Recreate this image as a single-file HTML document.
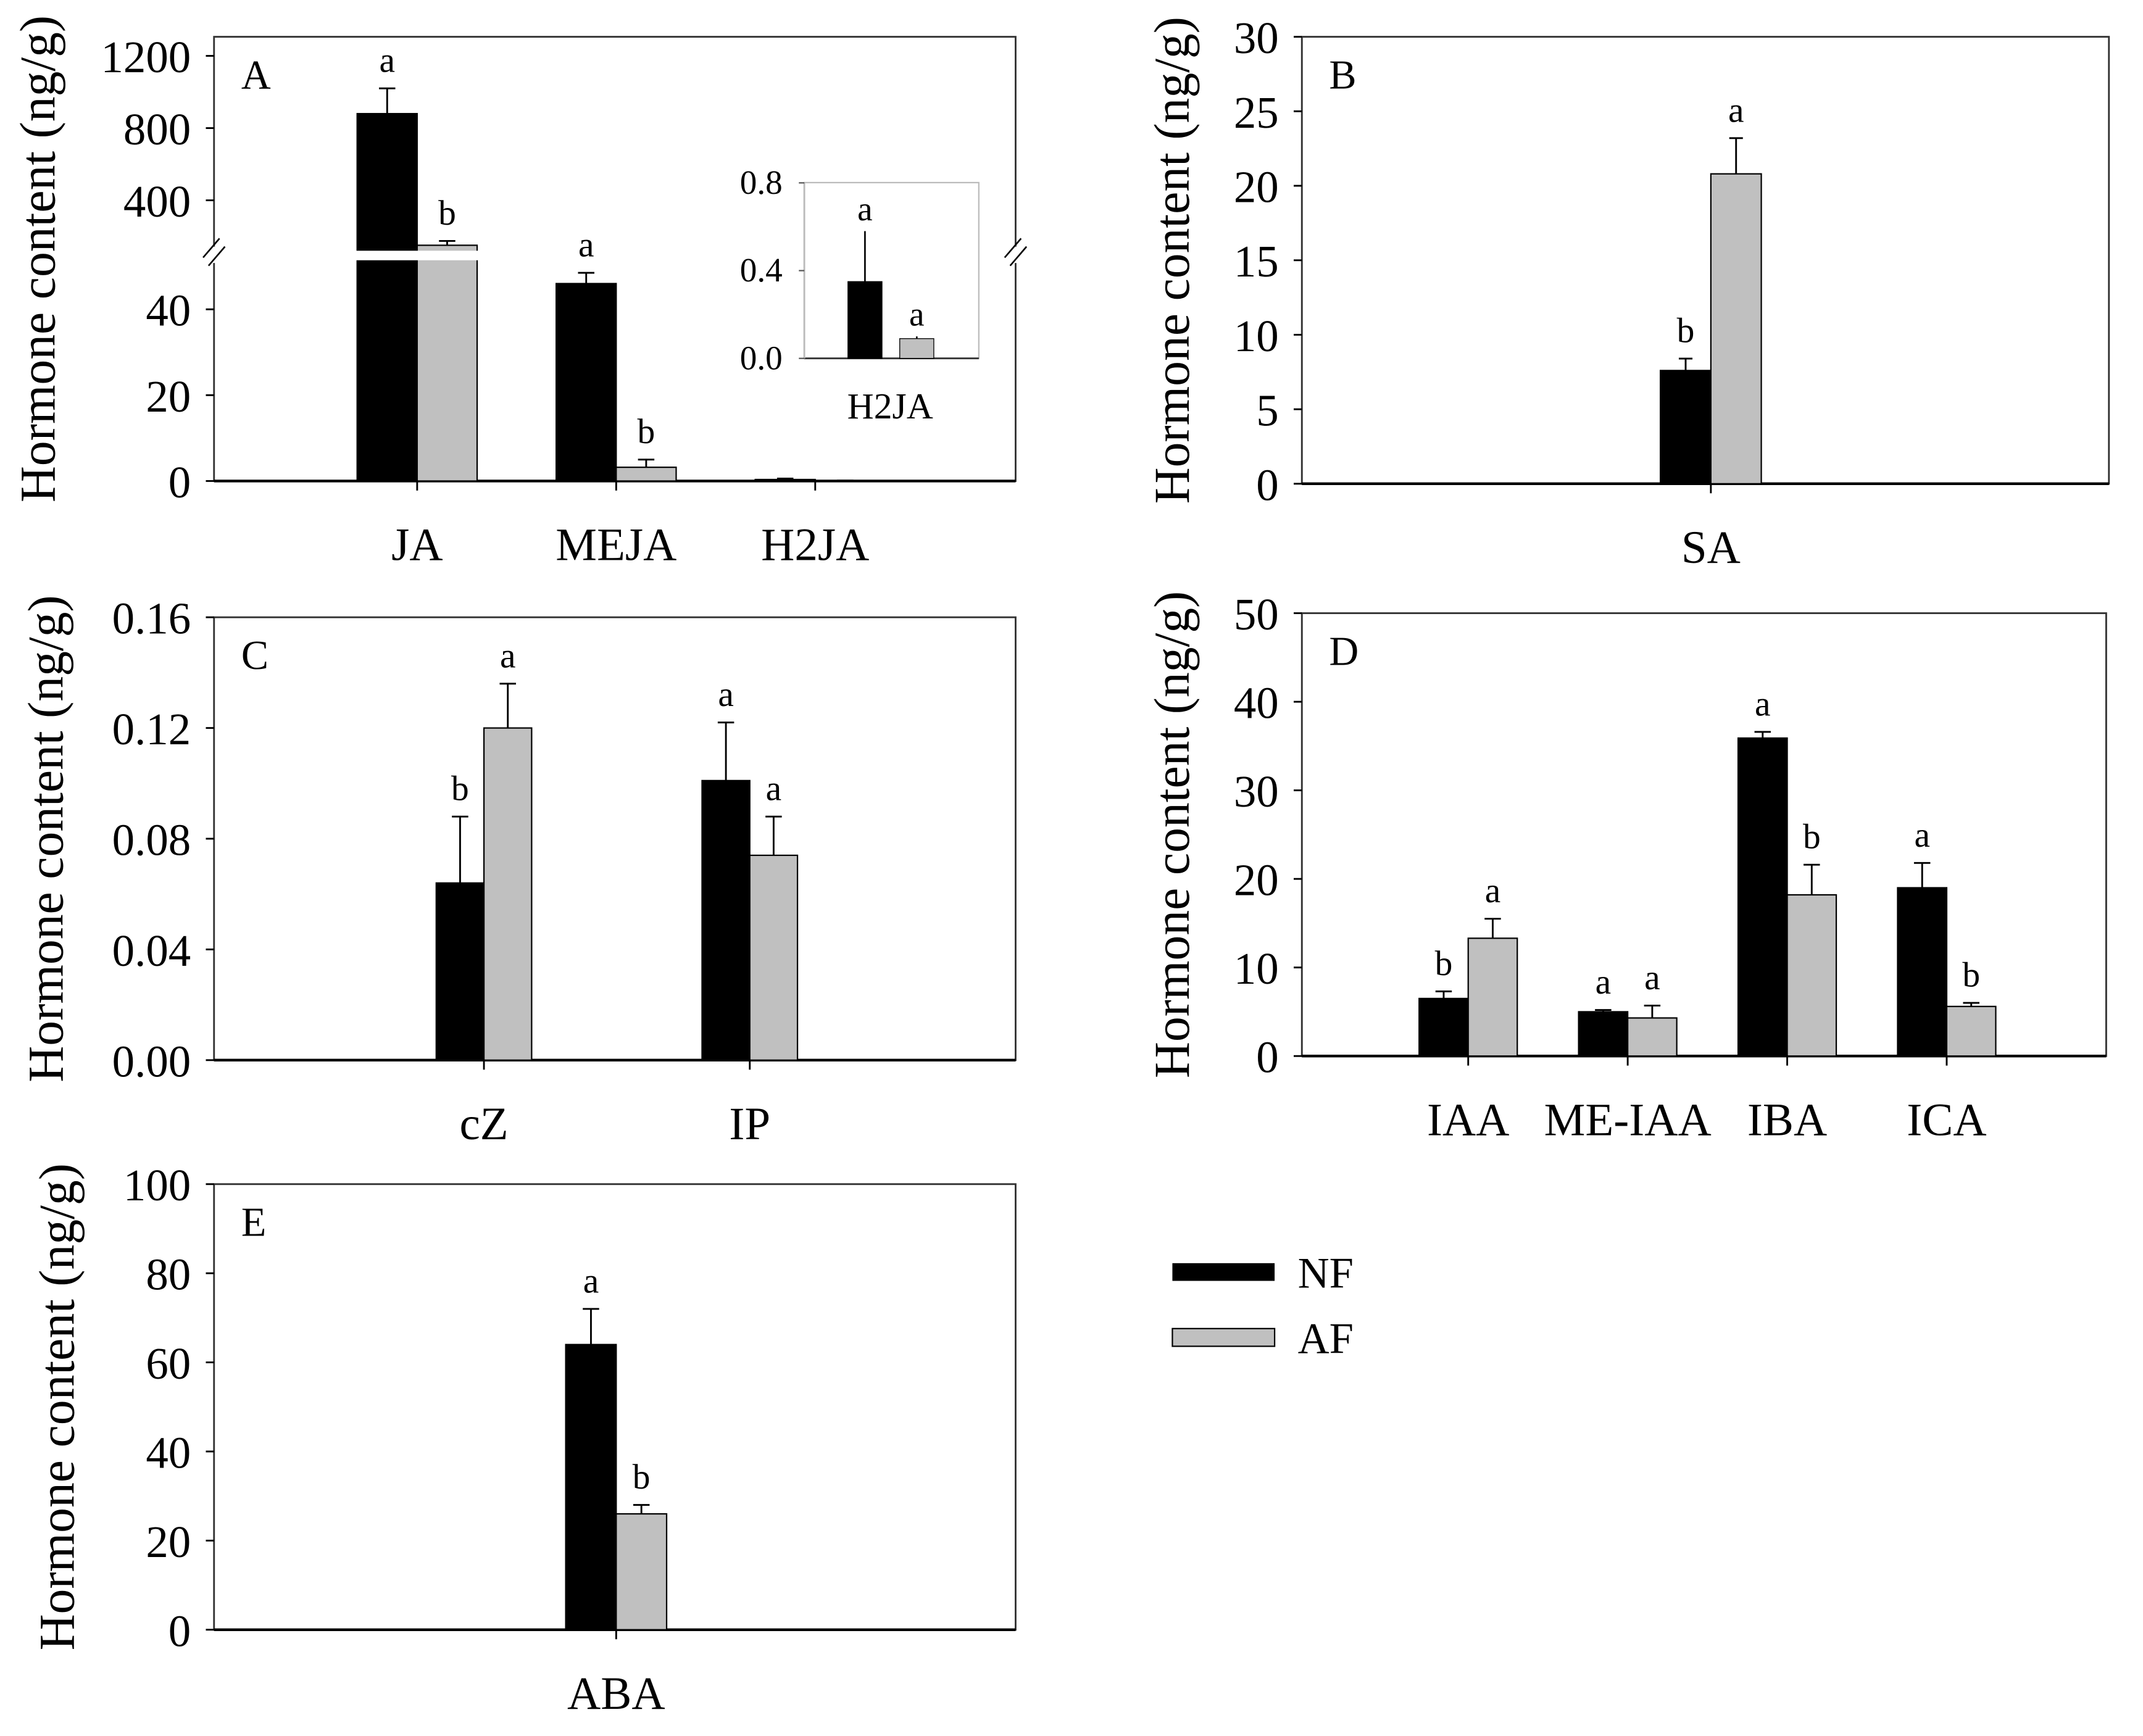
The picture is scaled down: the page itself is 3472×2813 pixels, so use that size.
<!DOCTYPE html>
<html><head><meta charset="utf-8"><style>
html,body{margin:0;padding:0;background:#fff;}
svg{display:block;}
text{font-family:"Liberation Serif",serif;fill:#000;}
</style></head><body>
<svg id="fig" xmlns="http://www.w3.org/2000/svg" width="3472" height="2813" viewBox="0 0 1572 1274" preserveAspectRatio="none">
<rect x="0" y="0" width="1572" height="1274" fill="#fff"/>
<g>
 <rect x="860" y="927" width="75" height="13" fill="#000"/>
 <text x="952" y="945" font-size="32">NF</text>
 <rect x="860" y="975" width="75" height="13" fill="#c0c0c0" stroke="#000" stroke-width="1"/>
 <text x="952" y="993" font-size="32">AF</text>
</g>
</svg>
<script>
// Panel A
const catsA = ["JA","MEJA","H2JA"];
const nfA = [880, 46, 0.35];
const afA = [151, 3.2, 0.09];
const nfErrA = [1020, 48.5, 0.58];
const afErrA = [175, 5, 0.1];
const nfLetA = ["a","a",""];
const afLetA = ["b","b",""];
const ticksAlow = [0,20,40];
const ticksAup = [400,800,1200];
// Inset A
const catsIn = ["H2JA"];
const nfIn = [0.35]; const afIn = [0.09];
const nfErrIn = [0.58]; const afErrIn = [0.1];
const ticksIn = [0.0,0.4,0.8];
// Panel B
const catsB = ["SA"];
const nfB = [7.6]; const afB = [20.8];
const nfErrB = [8.4]; const afErrB = [23.2];
const nfLetB = ["b"]; const afLetB = ["a"];
const ticksB = [0,5,10,15,20,25,30];
// Panel C
const catsC = ["cZ","IP"];
const nfC = [0.064, 0.101]; const afC = [0.12, 0.074];
const nfErrC = [0.088, 0.122]; const afErrC = [0.136, 0.088];
const nfLetC = ["b","a"]; const afLetC = ["a","a"];
const ticksC = [0.00,0.04,0.08,0.12,0.16];
// Panel D
const catsD = ["IAA","ME-IAA","IBA","ICA"];
const nfD = [6.5, 5.0, 35.9, 19.0]; const afD = [13.3, 4.3, 18.2, 5.6];
const nfErrD = [7.3, 5.2, 36.6, 21.8]; const afErrD = [15.5, 5.7, 21.6, 6.0];
const nfLetD = ["b","a","a","a"]; const afLetD = ["a","a","b","b"];
const ticksD = [0,10,20,30,40,50];
// Panel E
const catsE = ["ABA"];
const nfE = [64]; const afE = [26];
const nfErrE = [72]; const afErrE = [28];
const nfLetE = ["a"]; const afLetE = ["b"];
const ticksE = [0,20,40,60,80,100];

const NS="http://www.w3.org/2000/svg";
const svg=document.getElementById('fig');
function el(tag,attrs,parent,txt){const e=document.createElementNS(NS,tag);for(const k in attrs)e.setAttribute(k,attrs[k]);if(txt!==undefined)e.textContent=txt;(parent||svg).appendChild(e);return e;}

function drawPanel(p){
  const g=el('g',{});
  
  
  const y=p.y;
  const fr=el('rect',{x:p.x0,y:p.top,width:p.x1-p.x0,height:p.bot-p.top,fill:'none',stroke:'#333','stroke-width':1.3},g);
  
  
  const ax=el('line',{x1:p.x0,x2:p.x1,y1:p.bot,y2:p.bot,stroke:'#000','stroke-width':2},g);
  
  
  p.ticks.forEach((t,i)=>{
    const ty=y(t);
    el('line',{x1:p.x0-6,x2:p.x0,y1:ty,y2:ty,stroke:'#000','stroke-width':1.3},g);
    const lb=el('text',{x:p.x0-17,y:ty+12,'font-size':33,'text-anchor':'end'},g,p.fmt?p.fmt(t):String(t));
    
    
  });
  const yt=el('text',{x:0,y:0,'font-size':37,'text-anchor':'middle',transform:`translate(${p.titleX},${(p.top+p.bot)/2}) rotate(-90)`},g,'Hormone content (ng/g)');
  
  
  const pl=el('text',{x:p.x0+20,y:p.top+38,'font-size':30},g,p.id);
  
  
  p.cats.forEach((c,i)=>{
    const cx=p.c0+i*p.step;
    el('line',{x1:cx,x2:cx,y1:p.bot,y2:p.bot+7,stroke:'#000','stroke-width':1.3},g);
    const cl=el('text',{x:cx,y:p.bot+58,'font-size':34,'text-anchor':'middle'},g,c);
    
    
    [[p.nf,p.nfE,p.nfL,'#000',-1],[p.af,p.afE,p.afL,'#c0c0c0',0]].forEach(([vals,errs,lets,col,off])=>{
      const bx=cx+off*p.bw, v=vals[i], ty=y(v);
      const r=el('rect',{x:bx,y:ty,width:p.bw,height:p.bot-ty,fill:col,stroke:'#000','stroke-width':1},g);
      
      
      const ex=bx+p.bw/2, ey=y(errs[i]);
      el('line',{x1:ex,x2:ex,y1:ty,y2:ey,stroke:'#000','stroke-width':1.3},g);
      el('line',{x1:ex-p.cap/2,x2:ex+p.cap/2,y1:ey,y2:ey,stroke:'#000','stroke-width':1.3},g);
      if(lets&&lets[i]){
        const lt=el('text',{x:ex,y:ey-12,'font-size':26,'text-anchor':'middle'},g,lets[i]);
        
        
      }
    });
  });
  return g;
}

function yA(v){ return v<=51.7 ? 353-v*3.15 : 41+(1200-v)*0.1325; }
const gA=drawPanel({id:'A',x0:157,x1:745,top:27,bot:353,y:yA,ticks:ticksAlow.concat(ticksAup),
  cats:catsA,nf:nfA,af:afA,nfE:nfErrA,afE:afErrA,nfL:nfLetA,afL:afLetA,c0:306,step:146,bw:44,cap:12,titleX:40});
el('rect',{x:258,y:184,width:96,height:7,fill:'#fff'},gA);
[[157,187],[745,187]].forEach(([bx,by])=>{
  el('rect',{x:bx-6,y:by-6,width:12,height:12,fill:'#fff'},gA);
  el('line',{x1:bx-8,x2:bx+4,y1:by+2,y2:by-12,stroke:'#000','stroke-width':1.2},gA);
  el('line',{x1:bx-4,x2:bx+8,y1:by+8,y2:by-6,stroke:'#000','stroke-width':1.2},gA);
});
(function(){
  const g=el('g',{});
  
  
  const yi=v=>263-v*161;
  el('rect',{x:590,y:134,width:128,height:129,fill:'#fff',stroke:'#bbb','stroke-width':1},g);
  el('line',{x1:590,x2:718,y1:263,y2:263,stroke:'#333','stroke-width':1.3},g);
  el('line',{x1:590,x2:590,y1:134,y2:263,stroke:'#bbb','stroke-width':1.3},g);
  ticksIn.forEach(t=>{
    el('line',{x1:586,x2:590,y1:yi(t),y2:yi(t),stroke:'#555'},g);
    const lb=el('text',{x:574,y:yi(t)+8,'font-size':25,'text-anchor':'end'},g,t.toFixed(1));
    
    
  });
  const cx=653;
  [[nfIn,nfErrIn,'#000',622,'a'],[afIn,afErrIn,'#c0c0c0',660,'a']].forEach(([v,e,col,bx,l])=>{
    const r=el('rect',{x:bx,y:yi(v[0]),width:25,height:263-yi(v[0]),fill:col,stroke:'#000','stroke-width':0.6},g);
    
    
    const ex=bx+12.5;
    el('line',{x1:ex,x2:ex,y1:yi(v[0]),y2:yi(e[0]),stroke:'#000','stroke-width':1.2},g);
    el('text',{x:ex,y:yi(e[0])-8,'font-size':25,'text-anchor':'middle'},g,l);
  });
  const t=el('text',{x:cx,y:307,'font-size':27,'text-anchor':'middle'},g,catsIn[0]);
  
  
})();

drawPanel({id:'B',x0:955,x1:1547,top:27,bot:355,y:v=>355-v*(328/30),ticks:ticksB,
  cats:catsB,nf:nfB,af:afB,nfE:nfErrB,afE:afErrB,nfL:nfLetB,afL:afLetB,c0:1255,step:100,bw:37,cap:10,titleX:872});
drawPanel({id:'C',x0:157,x1:745,top:453,bot:778,y:v=>778-v*(325/0.16),ticks:ticksC,fmt:t=>t.toFixed(2),
  cats:catsC,nf:nfC,af:afC,nfE:nfErrC,afE:afErrC,nfL:nfLetC,afL:afLetC,c0:355,step:195,bw:35,cap:12,titleX:46});
drawPanel({id:'D',x0:955,x1:1545,top:450,bot:775,y:v=>775-v*6.5,ticks:ticksD,
  cats:catsD,nf:nfD,af:afD,nfE:nfErrD,afE:afErrD,nfL:nfLetD,afL:afLetD,c0:1077,step:117,bw:36,cap:12,titleX:872});
drawPanel({id:'E',x0:157,x1:745,top:869,bot:1196,y:v=>1196-v*3.27,ticks:ticksE,
  cats:catsE,nf:nfE,af:afE,nfE:nfErrE,afE:afErrE,nfL:nfLetE,afL:afLetE,c0:452,step:100,bw:37,cap:12,titleX:54});
</script>
</body></html>
